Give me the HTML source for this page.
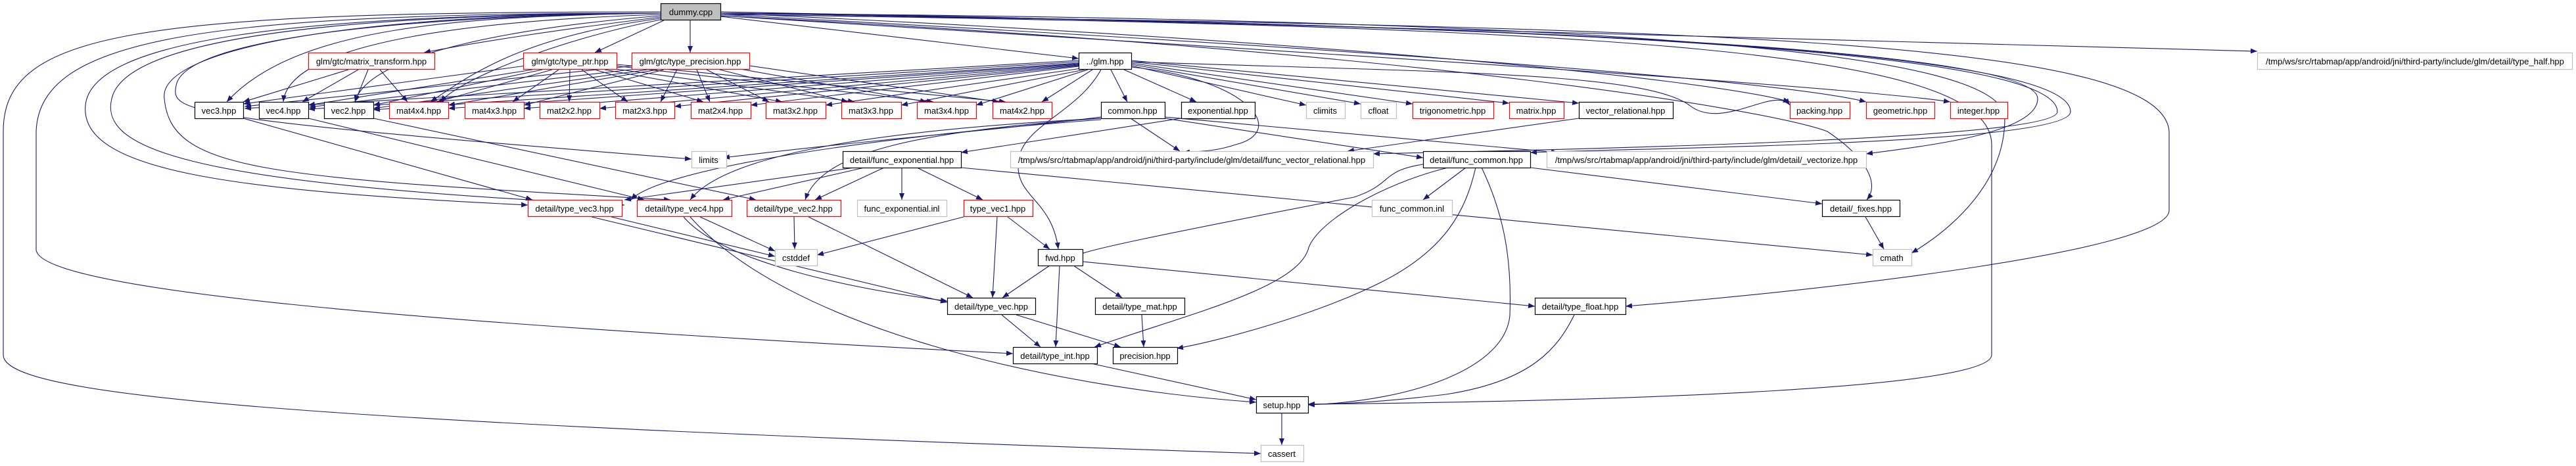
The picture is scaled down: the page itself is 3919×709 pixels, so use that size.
<!DOCTYPE html>
<html><head><meta charset="utf-8"><style>
html,body{margin:0;padding:0;background:#fff;}
svg{display:block;}
text{font-family:"Liberation Sans",sans-serif;font-size:13px;fill:#000;}
.e{fill:none;stroke:#191970;stroke-width:1.1;marker-end:url(#a);}
.b{fill:#fff;stroke:#000;stroke-width:1.2;}
.r{fill:#fff;stroke:#ff0000;stroke-width:1.2;}
.g{fill:#fff;stroke:#bfbfbf;stroke-width:1.2;}
</style></head><body>
<svg width="3919" height="709" viewBox="0 0 3919 709" xmlns="http://www.w3.org/2000/svg">
<defs><marker id="a" markerUnits="userSpaceOnUse" markerWidth="11" markerHeight="8" refX="10" refY="4" orient="auto"><path d="M0,0 L10,4 L0,8 z" fill="#191970"/></marker></defs>

<!-- edges from dummy.cpp -->
<path class="e" d="M1050,31 L1050,80"/>
<path class="e" d="M1005,26 C850,45 720,65 645,80"/>
<path class="e" d="M1010,31 L905,80"/>
<path class="e" d="M1096,25 L1641,89"/>
<path class="e" d="M1096,18 C2000,35 3000,60 3434,78"/>
<path class="e" d="M1005,20 C700,25 450,40 345,155"/>
<path class="e" d="M1005,22 C750,30 440,60 431,155"/>
<path class="e" d="M1005,24 C800,40 560,80 540,155"/>
<path class="e" d="M1005,28 C800,55 720,110 655,155"/>
<path class="e" d="M1005,30 C850,60 700,120 670,155"/>
<path class="e" d="M1005,20 C600,25 280,60 268,130 C260,170 270,180 1052,242"/>
<path class="e" d="M1005,20 C500,22 190,60 170,150 C150,230 300,280 950,312"/>
<path class="e" d="M1005,20 C450,22 140,60 130,160 C120,260 350,290 803,312"/>
<path class="e" d="M1005,20 C500,22 240,80 250,150 C260,260 400,270 1020,304"/>
<path class="e" d="M1005,20 C300,20 60,60 55,200 L55,380 C60,440 600,490 1541,538"/>
<path class="e" d="M1005,18 C200,18 5,50 5,200 L5,540 C5,600 400,640 1918,690"/>
<path class="e" d="M1096,20 C2500,30 3050,80 3050,180 C3050,290 2950,360 2908,385"/>
<path class="e" d="M1096,22 C2500,40 3030,80 3030,220 L3030,540 C3030,590 2500,610 1990,615"/>
<path class="e" d="M1096,22 C2600,40 3290,60 3300,200 L3300,320 C3300,380 2800,440 2473,466"/>
<path class="e" d="M1096,20 C2000,60 2600,120 2723,155"/>
<path class="e" d="M1096,22 C2000,70 2700,120 2839,155"/>
<path class="e" d="M1096,24 C2000,80 2800,130 2967,155"/>
<path class="e" d="M1096,20 C2600,40 3100,90 3100,150 C3100,200 2950,220 2839,234"/>
<path class="e" d="M1096,20 C2600,40 3130,90 3130,170 C3130,210 2500,225 2089,234"/>
<path class="e" d="M1096,20 C2600,40 3150,90 3150,170 C3150,220 2500,225 2328,232"/>
<path class="e" d="M1096,24 C2200,80 2700,170 2780,200 C2840,240 2860,280 2840,304"/>

<!-- matrix_transform -->
<path class="e" d="M530,106 L370,155"/>
<path class="e" d="M545,106 L460,155"/>
<path class="e" d="M560,106 L540,155"/>
<path class="e" d="M578,106 L620,155"/>
<!-- type_ptr -->
<path class="e" d="M800,100 L370,158"/>
<path class="e" d="M810,106 L469,160"/>
<path class="e" d="M825,106 L568,160"/>
<path class="e" d="M840,106 L665,155"/>
<path class="e" d="M850,106 L780,155"/>
<path class="e" d="M867,106 L866,155"/>
<path class="e" d="M885,106 L955,155"/>
<path class="e" d="M905,106 L1070,155"/>
<path class="e" d="M920,106 L1190,155"/>
<path class="e" d="M930,104 L1300,155"/>
<path class="e" d="M935,100 L1420,155"/>
<path class="e" d="M938,98 L1530,155"/>
<!-- type_precision -->
<path class="e" d="M965,100 L372,162"/>
<path class="e" d="M975,104 L470,163"/>
<path class="e" d="M985,106 L568,165"/>
<path class="e" d="M1000,106 L682,160"/>
<path class="e" d="M1010,106 L797,160"/>
<path class="e" d="M1030,106 L1005,155"/>
<path class="e" d="M1060,106 L1080,155"/>
<path class="e" d="M1075,106 L1170,155"/>
<path class="e" d="M1095,106 L1290,155"/>
<path class="e" d="M1120,104 L1410,155"/>
<path class="e" d="M1140,100 L1520,155"/>
<!-- glm -->
<path class="e" d="M1641,92 L372,165"/>
<path class="e" d="M1641,94 L469,166"/>
<path class="e" d="M1641,96 L568,167"/>
<path class="e" d="M1641,97 L682,165"/>
<path class="e" d="M1641,98 L797,165"/>
<path class="e" d="M1641,99 L912,165"/>
<path class="e" d="M1641,100 L1026,162"/>
<path class="e" d="M1641,101 L1142,160"/>
<path class="e" d="M1645,104 L1256,160"/>
<path class="e" d="M1650,106 L1371,160"/>
<path class="e" d="M1655,106 L1485,160"/>
<path class="e" d="M1662,106 L1585,155"/>
<path class="e" d="M1690,106 L1715,155"/>
<path class="e" d="M1710,106 L1820,155"/>
<path class="e" d="M1721,100 L1987,160"/>
<path class="e" d="M1721,98 L2070,158"/>
<path class="e" d="M1721,96 L2149,158"/>
<path class="e" d="M1721,94 L2296,157"/>
<path class="e" d="M1721,92 L2402,157"/>
<path class="e" d="M1721,94 C2200,110 2500,110 2570,160 C2620,200 2700,130 2723,160"/>
<path class="e" d="M1675,106 C1640,170 1560,190 1550,240 C1540,300 1600,300 1610,379"/>
<path class="e" d="M1721,102 C1900,120 1960,200 1880,220 C1850,230 1830,230 1800,232"/>
<!-- common / exponential / vector_relational -->
<path class="e" d="M1720,180 L1795,230"/>
<path class="e" d="M1675,178 C1500,200 1350,210 1100,240"/>
<path class="e" d="M1675,180 C1400,200 1250,230 1225,304"/>
<path class="e" d="M1675,180 C1300,200 1100,240 1050,304"/>
<path class="e" d="M1675,182 C1300,210 1000,260 960,304"/>
<path class="e" d="M1772,180 L2165,240"/>
<path class="e" d="M1772,178 L2370,232"/>
<path class="e" d="M1797,180 L1462,232"/>
<path class="e" d="M2402,180 L2050,230"/>
<!-- func_exponential -->
<path class="e" d="M1315,255 L1100,304"/>
<path class="e" d="M1345,255 L1240,304"/>
<path class="e" d="M1372,255 L1372,304"/>
<path class="e" d="M1395,255 L1495,304"/>
<path class="e" d="M1300,255 L950,304"/>
<path class="e" d="M1462,255 L2849,388"/>
<!-- func_common -->
<path class="e" d="M2230,255 L2165,304"/>
<path class="e" d="M2328,255 L2772,310"/>
<path class="e" d="M2203,255 C2100,280 2000,340 1990,380 C1970,440 1800,480 1665,528"/>
<path class="e" d="M2245,255 C2230,320 2200,380 2100,430 C2000,480 1850,520 1790,530"/>
<path class="e" d="M2254,255 C2290,330 2300,400 2297,480 C2290,560 2150,610 1990,616"/>
<path class="e" d="M2165,250 C2100,260 2120,280 2060,300 C1800,350 1600,390 1647,390"/>
<!-- vec row2 -> detail -->
<path class="e" d="M370,180 L810,304"/>
<path class="e" d="M469,180 L980,304"/>
<path class="e" d="M568,180 L1150,304"/>
<!-- detail type vecs -->
<path class="e" d="M930,330 L1179,390"/>
<path class="e" d="M1065,330 L1179,382"/>
<path class="e" d="M1208,330 L1209,379"/>
<path class="e" d="M1466,330 L1243,388"/>
<path class="e" d="M900,330 L1441,460"/>
<path class="e" d="M1040,330 C1100,400 1300,440 1441,458"/>
<path class="e" d="M1230,330 L1480,453"/>
<path class="e" d="M1517,330 L1510,453"/>
<path class="e" d="M1533,330 L1597,379"/>
<path class="e" d="M1050,330 C1200,500 1600,590 1911,612"/>
<!-- fwd -->
<path class="e" d="M1597,404 L1525,453"/>
<path class="e" d="M1612,404 L1606,528"/>
<path class="e" d="M1633,404 L1707,453"/>
<path class="e" d="M1647,398 L2335,466"/>
<!-- type_vec / mat / int / float -->
<path class="e" d="M1524,479 L1583,528"/>
<path class="e" d="M1546,479 L1705,528"/>
<path class="e" d="M1737,479 L1740,528"/>
<path class="e" d="M1660,553 L1911,608"/>
<path class="e" d="M2395,479 C2370,530 2330,580 2200,600 C2100,612 2030,615 1990,615"/>
<path class="e" d="M1950,628 L1950,677"/>
<path class="e" d="M2838,330 L2866,379"/>

<!-- nodes -->
<rect x="1005.5" y="5.5" width="91" height="25" fill="#bfbfbf" stroke="#000" stroke-width="1.2"/><text x="1051" y="23" text-anchor="middle">dummy.cpp</text>

<rect class="r" x="469.5" y="80.5" width="192" height="25"/><text x="565" y="98" text-anchor="middle">glm/gtc/matrix_transform.hpp</text>
<rect class="r" x="796.5" y="80.5" width="142" height="25"/><text x="867" y="98" text-anchor="middle">glm/gtc/type_ptr.hpp</text>
<rect class="r" x="961.5" y="80.5" width="179" height="25"/><text x="1050" y="98" text-anchor="middle">glm/gtc/type_precision.hpp</text>
<rect class="b" x="1641.5" y="80.5" width="80" height="25"/><text x="1681" y="98" text-anchor="middle">../glm.hpp</text>
<rect class="g" x="3434.5" y="80.5" width="479" height="25"/><text x="3674" y="98" text-anchor="middle">/tmp/ws/src/rtabmap/app/android/jni/third-party/include/glm/detail/type_half.hpp</text>

<g>
<rect class="b" x="296.5" y="155.5" width="74" height="25"/><text x="333" y="173" text-anchor="middle">vec3.hpp</text>
<rect class="b" x="394.5" y="155.5" width="75" height="25"/><text x="431" y="173" text-anchor="middle">vec4.hpp</text>
<rect class="b" x="493.5" y="155.5" width="75" height="25"/><text x="530" y="173" text-anchor="middle">vec2.hpp</text>
<rect class="r" x="592.5" y="155.5" width="90" height="25"/><text x="637" y="173" text-anchor="middle">mat4x4.hpp</text>
<rect class="r" x="707.5" y="155.5" width="90" height="25"/><text x="752" y="173" text-anchor="middle">mat4x3.hpp</text>
<rect class="r" x="821.5" y="155.5" width="91" height="25"/><text x="866" y="173" text-anchor="middle">mat2x2.hpp</text>
<rect class="r" x="936.5" y="155.5" width="90" height="25"/><text x="981" y="173" text-anchor="middle">mat2x3.hpp</text>
<rect class="r" x="1051.5" y="155.5" width="91" height="25"/><text x="1096" y="173" text-anchor="middle">mat2x4.hpp</text>
<rect class="r" x="1165.5" y="155.5" width="91" height="25"/><text x="1210" y="173" text-anchor="middle">mat3x2.hpp</text>
<rect class="r" x="1280.5" y="155.5" width="91" height="25"/><text x="1325" y="173" text-anchor="middle">mat3x3.hpp</text>
<rect class="r" x="1395.5" y="155.5" width="90" height="25"/><text x="1440" y="173" text-anchor="middle">mat3x4.hpp</text>
<rect class="r" x="1510.5" y="155.5" width="90" height="25"/><text x="1555" y="173" text-anchor="middle">mat4x2.hpp</text>
<rect class="b" x="1675.5" y="155.5" width="97" height="25"/><text x="1723" y="173" text-anchor="middle">common.hpp</text>
<rect class="b" x="1797.5" y="155.5" width="112" height="25"/><text x="1853" y="173" text-anchor="middle">exponential.hpp</text>
<rect class="g" x="1987.5" y="155.5" width="59" height="25"/><text x="2016" y="173" text-anchor="middle">climits</text>
<rect class="g" x="2070.5" y="155.5" width="54" height="25"/><text x="2097" y="173" text-anchor="middle">cfloat</text>
<rect class="r" x="2149.5" y="155.5" width="123" height="25"/><text x="2210" y="173" text-anchor="middle">trigonometric.hpp</text>
<rect class="r" x="2296.5" y="155.5" width="83" height="25"/><text x="2337" y="173" text-anchor="middle">matrix.hpp</text>
<rect class="b" x="2402.5" y="155.5" width="143" height="25"/><text x="2473" y="173" text-anchor="middle">vector_relational.hpp</text>
<rect class="r" x="2723.5" y="155.5" width="91" height="25"/><text x="2768" y="173" text-anchor="middle">packing.hpp</text>
<rect class="r" x="2839.5" y="155.5" width="104" height="25"/><text x="2891" y="173" text-anchor="middle">geometric.hpp</text>
<rect class="r" x="2967.5" y="155.5" width="87" height="25"/><text x="3010" y="173" text-anchor="middle">integer.hpp</text>
</g>

<rect class="g" x="1052.5" y="230.5" width="53" height="25"/><text x="1078" y="248" text-anchor="middle">limits</text>
<rect class="b" x="1282.5" y="230.5" width="180" height="25"/><text x="1372" y="248" text-anchor="middle">detail/func_exponential.hpp</text>
<rect class="g" x="1537.5" y="230.5" width="552" height="25"/><text x="1813" y="248" text-anchor="middle">/tmp/ws/src/rtabmap/app/android/jni/third-party/include/glm/detail/func_vector_relational.hpp</text>
<rect class="b" x="2165.5" y="230.5" width="163" height="25"/><text x="2246" y="248" text-anchor="middle">detail/func_common.hpp</text>
<rect class="g" x="2353.5" y="230.5" width="486" height="25"/><text x="2596" y="248" text-anchor="middle">/tmp/ws/src/rtabmap/app/android/jni/third-party/include/glm/detail/_vectorize.hpp</text>

<rect class="r" x="803.5" y="304.5" width="143" height="25"/><text x="874" y="322" text-anchor="middle">detail/type_vec3.hpp</text>
<rect class="r" x="969.5" y="304.5" width="144" height="25"/><text x="1041" y="322" text-anchor="middle">detail/type_vec4.hpp</text>
<rect class="r" x="1136.5" y="304.5" width="143" height="25"/><text x="1207" y="322" text-anchor="middle">detail/type_vec2.hpp</text>
<rect class="g" x="1304.5" y="304.5" width="136" height="25"/><text x="1372" y="322" text-anchor="middle">func_exponential.inl</text>
<rect class="r" x="1466.5" y="304.5" width="105" height="25"/><text x="1518" y="322" text-anchor="middle">type_vec1.hpp</text>
<rect class="g" x="2087.5" y="304.5" width="122" height="25"/><text x="2148" y="322" text-anchor="middle">func_common.inl</text>
<rect class="b" x="2772.5" y="304.5" width="118" height="25"/><text x="2831" y="322" text-anchor="middle">detail/_fixes.hpp</text>

<rect class="g" x="1179.5" y="379.5" width="64" height="25"/><text x="1211" y="397" text-anchor="middle">cstddef</text>
<rect class="b" x="1579.5" y="379.5" width="68" height="25"/><text x="1613" y="397" text-anchor="middle">fwd.hpp</text>
<rect class="g" x="2849.5" y="379.5" width="59" height="25"/><text x="2878" y="397" text-anchor="middle">cmath</text>

<rect class="b" x="1441.5" y="453.5" width="134" height="25"/><text x="1508" y="471" text-anchor="middle">detail/type_vec.hpp</text>
<rect class="b" x="1666.5" y="453.5" width="136" height="25"/><text x="1734" y="471" text-anchor="middle">detail/type_mat.hpp</text>
<rect class="b" x="2335.5" y="453.5" width="138" height="25"/><text x="2404" y="471" text-anchor="middle">detail/type_float.hpp</text>

<rect class="b" x="1541.5" y="528.5" width="128" height="25"/><text x="1605" y="546" text-anchor="middle">detail/type_int.hpp</text>
<rect class="b" x="1693.5" y="528.5" width="98" height="25"/><text x="1742" y="546" text-anchor="middle">precision.hpp</text>

<rect class="b" x="1911.5" y="603.5" width="79" height="25"/><text x="1950" y="621" text-anchor="middle">setup.hpp</text>
<rect class="g" x="1918.5" y="677.5" width="65" height="25"/><text x="1950" y="695" text-anchor="middle">cassert</text>
</svg>
</body></html>
